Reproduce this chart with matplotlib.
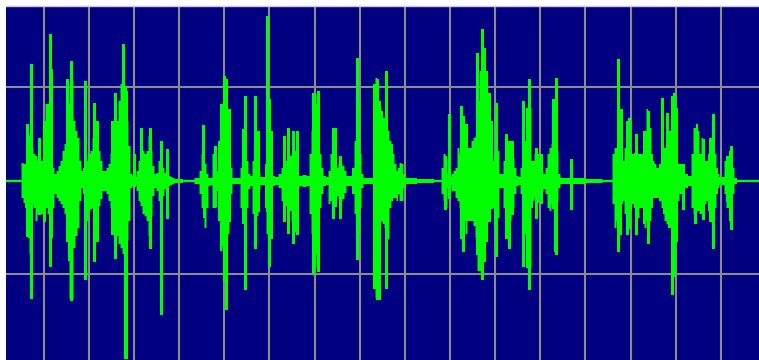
import matplotlib
matplotlib.use("Agg")
import matplotlib.pyplot as plt
import numpy as np

# ---- envelope: (sample column, peak up, peak down) ----
burst_a = [(6, 1, 1), (20, 1, 1), (22, 18, 17), (24, 17, 22), (25, 17, 27), (26, 45, 45),
           (27, 53, 53), (28, 47, 57), (30, 45, 73), (32, 33, 23), (34, 27, 27), (36, 25, 40),
           (38, 20, 33), (40, 20, 33), (42, 20, 33), (44, 50, 37), (46, 77, 27), (48, 77, 33),
           (50, 87, 47), (52, 60, 57), (53, 13, 27), (55, 7, 13), (57, 10, 17), (59, 15, 20),
           (61, 20, 23), (63, 30, 27), (65, 37, 33), (67, 57, 53), (68, 77, 80), (70, 95, 118),
           (72, 100, 118), (74, 60, 67), (76, 50, 55), (78, 43, 47), (80, 20, 20), (82, 10, 7),
           (83, 13, 13), (85, 43, 47), (87, 20, 40), (89, 27, 30), (91, 30, 28), (93, 43, 27),
           (95, 40, 30), (97, 40, 30), (99, 30, 25), (101, 20, 18), (103, 10, 10), (105, 10, 10),
           (107, 13, 13), (109, 17, 20), (111, 27, 27), (113, 30, 30), (115, 37, 40),
           (117, 60, 55), (119, 80, 63), (121, 97, 67), (123, 97, 73), (125, 90, 73),
           (127, 60, 60), (129, 35, 40), (131, 7, 7), (133, 5, 5), (135, 4, 4), (137, 10, 10),
           (139, 20, 20), (141, 25, 25), (143, 30, 33), (145, 27, 35), (147, 30, 40),
           (149, 45, 55), (151, 30, 35), (153, 15, 15), (155, 7, 7), (157, 8, 10), (159, 20, 20),
           (161, 30, 20), (163, 13, 15), (165, 8, 8), (167, 6, 6), (169, 5, 5), (171, 4, 4),
           (173, 3, 3), (175, 2, 2)]
burst_b = [(190, 1, 1), (198, 3, 3), (200, 10, 13), (202, 27, 27), (203, 30, 37), (205, 17, 47),
           (207, 7, 27), (209, 3, 5), (211, 3, 4), (213, 27, 27), (215, 27, 27), (217, 10, 10),
           (218, 40, 40), (221, 60, 70), (223, 70, 65), (225, 73, 70), (227, 77, 80),
           (228, 63, 53), (230, 27, 27), (231, 13, 13), (233, 3, 3), (239, 3, 3), (241, 13, 27),
           (243, 33, 40), (245, 27, 37), (247, 20, 27), (249, 7, 8), (251, 5, 5), (253, 20, 33),
           (255, 33, 47), (257, 25, 35), (259, 8, 8), (261, 4, 4), (264, 4, 4), (265, 17, 27),
           (267, 27, 53), (269, 20, 40), (271, 17, 27), (273, 5, 5), (276, 4, 4), (280, 7, 7),
           (282, 13, 20), (284, 27, 30), (286, 20, 25), (288, 25, 35), (290, 25, 30),
           (292, 27, 40), (294, 20, 35), (296, 15, 25), (298, 5, 6), (300, 5, 5), (304, 6, 6),
           (308, 5, 5), (310, 27, 33), (312, 50, 53), (313, 77, 73), (315, 87, 87),
           (317, 77, 73), (318, 60, 57), (320, 27, 27), (322, 13, 13), (324, 5, 5), (327, 4, 4),
           (329, 10, 23), (331, 27, 20), (333, 20, 25), (335, 17, 22), (337, 13, 15),
           (339, 17, 18), (341, 17, 20), (343, 15, 18), (345, 10, 12), (347, 5, 5), (350, 5, 5),
           (353, 13, 13), (355, 40, 33), (357, 80, 53), (359, 80, 53), (360, 27, 27),
           (362, 7, 7), (364, 3, 3), (372, 3, 3), (373, 27, 33), (374, 95, 105), (376, 103, 117),
           (378, 80, 117), (380, 73, 40), (382, 70, 40), (383, 60, 43), (385, 43, 47),
           (387, 50, 57), (388, 50, 58), (390, 40, 27), (392, 37, 20), (393, 27, 17),
           (395, 17, 17), (397, 10, 20), (398, 13, 13), (400, 18, 20), (402, 17, 20),
           (404, 7, 7), (406, 3, 3), (427, 2, 2), (440, 1, 1)]
burst_c = [(442, 13, 13), (444, 27, 20), (446, 23, 27), (448, 7, 7), (450, 4, 4), (452, 7, 10),
           (454, 10, 10), (456, 13, 17), (458, 33, 20), (460, 27, 27), (462, 27, 40),
           (464, 40, 40), (466, 43, 53), (468, 33, 40), (470, 33, 40), (472, 40, 40),
           (474, 43, 45), (476, 45, 57), (478, 80, 90), (480, 110, 90), (482, 118, 80),
           (483, 90, 73), (485, 63, 50), (487, 70, 40), (489, 60, 30), (491, 7, 10),
           (493, 20, 27), (494, 27, 47), (496, 60, 53), (497, 77, 50), (498, 30, 37),
           (500, 7, 7), (502, 7, 7), (504, 20, 27), (505, 47, 47), (507, 45, 53), (508, 33, 43),
           (510, 23, 40), (512, 40, 33), (513, 23, 27), (515, 13, 13), (517, 5, 5), (519, 4, 4),
           (521, 13, 13), (522, 20, 20), (524, 40, 53), (527, 73, 87), (530, 73, 87),
           (532, 20, 27), (533, 20, 20), (535, 27, 17), (537, 13, 17), (538, 27, 22),
           (540, 23, 13), (542, 10, 10), (544, 7, 8), (546, 13, 13), (548, 27, 27),
           (550, 33, 30), (552, 37, 23), (553, 33, 23), (555, 37, 20), (557, 30, 20),
           (559, 7, 7), (561, 3, 3), (569, 3, 3), (571, 8, 10), (573, 3, 3), (577, 3, 3),
           (593, 2, 2), (611, 1, 1)]
burst_d = [(613, 27, 23), (615, 33, 47), (617, 33, 40), (618, 37, 43), (620, 70, 47),
           (622, 72, 23), (623, 20, 20), (625, 33, 33), (627, 60, 40), (628, 37, 40),
           (630, 27, 30), (633, 27, 23), (634, 28, 27), (635, 27, 33), (637, 33, 40),
           (638, 27, 37), (640, 27, 27), (642, 27, 27), (643, 50, 43), (645, 50, 47),
           (647, 72, 40), (648, 70, 43), (650, 53, 40), (652, 27, 27), (653, 20, 17),
           (655, 17, 17), (657, 13, 17), (660, 17, 20), (662, 27, 27), (663, 33, 33),
           (665, 33, 40), (667, 43, 43), (668, 50, 47), (670, 50, 47), (672, 60, 50),
           (673, 73, 53), (675, 67, 53), (677, 37, 47), (678, 17, 20), (680, 17, 13),
           (683, 13, 17), (685, 7, 7), (690, 5, 5), (692, 27, 27), (694, 53, 33), (697, 57, 30),
           (698, 50, 30), (700, 27, 33), (702, 43, 33), (703, 33, 33), (705, 20, 23),
           (707, 20, 20), (708, 27, 30), (710, 43, 33), (712, 33, 40), (713, 33, 43),
           (715, 27, 27), (717, 13, 13), (718, 7, 7), (720, 4, 4), (723, 4, 4), (725, 20, 13),
           (727, 20, 27), (730, 30, 40), (732, 33, 27), (733, 13, 13), (735, 3, 3), (738, 1, 1),
           (759, 1, 1)]

# ---- isolated peaks (sample column, peak up, peak down) ----
spikes = [(27, 57, 55), (31, 117, 117), (39, 43, 33), (44, 60, 40), (50, 147, 85),
          (51, 112, 40), (67, 102, 60), (71, 120, 119), (85, 100, 98), (94, 78, 80),
          (97, 60, 60), (112, 60, 53), (115, 88, 77), (123, 137, 60), (125, 95, 177),
          (126, 90, 177), (134, 27, 5), (141, 53, 20), (150, 53, 67), (161, 40, 133),
          (167, 32, 37),
          (203, 56, 20), (215, 35, 25), (221, 77, 30), (224, 105, 100), (226, 102, 128),
          (229, 72, 40), (243, 52, 42), (245, 85, 108), (255, 85, 67), (258, 50, 30),
          (267, 165, 30), (269, 82, 85), (271, 50, 57), (284, 45, 40), (288, 53, 52),
          (293, 50, 62), (295, 30, 50), (297, 50, 53), (313, 88, 93), (318, 90, 90),
          (333, 53, 37), (335, 53, 25), (340, 25, 37), (357, 123, 78), (358, 80, 40),
          (374, 97, 107), (377, 102, 118), (379, 80, 118), (383, 63, 40), (386, 110, 107),
          (445, 25, 28), (449, 67, 17), (461, 75, 57), (463, 65, 70), (466, 57, 37),
          (477, 128, 73), (482, 152, 98), (484, 133, 80), (486, 110, 60), (489, 88, 40),
          (491, 60, 27), (496, 78, 75), (506, 47, 57), (509, 40, 67), (512, 40, 33),
          (523, 80, 85), (529, 102, 108), (536, 33, 37), (541, 27, 22), (553, 82, 27),
          (555, 40, 70), (556, 103, 73), (571, 22, 28),
          (618, 122, 70), (620, 72, 53), (627, 60, 53), (629, 63, 47), (636, 47, 53),
          (648, 70, 62), (662, 83, 20), (667, 68, 27), (672, 85, 113), (674, 88, 95),
          (676, 73, 60), (683, 17, 28), (695, 53, 42), (703, 42, 38), (710, 43, 40),
          (713, 67, 67), (727, 25, 20), (731, 35, 48)]

x_grid = [43.7 + 45.15 * k for k in range(16)]
y_grid = [-93.5, 0, 93.5]

NAVY = "#000080"
GREEN = "#00ff00"
GRID = "#8c8c8c"

body = np.array(burst_a + burst_b + burst_c + burst_d, dtype=float)
spk = np.array(spikes, dtype=float)

fig = plt.figure(figsize=(7.59, 3.60), dpi=100, facecolor="white")
ax = fig.add_axes([6 / 759, 0, 753 / 759, 354 / 360])
ax.set_facecolor(NAVY)
ax.set_xlim(6, 759)
ax.set_ylim(-179.5, 174.5)

for gx in x_grid:
    ax.axvline(gx, color=GRID, lw=1.5, zorder=1)
for gy in y_grid:
    ax.axhline(gy, color=GRID, lw=1.5, zorder=1)

ax.axhline(0, color=GREEN, lw=1.6, zorder=2)

ax.fill_between(body[:, 0], body[:, 1], -body[:, 2], step="mid",
                color=GREEN, lw=0, antialiased=False, zorder=3)
ax.vlines(spk[:, 0], -spk[:, 2], spk[:, 1], color=GREEN,
          lw=1.0, antialiased=False, zorder=3)

ax.set_xticks([])
ax.set_yticks([])
for side in ("left", "right", "bottom"):
    ax.spines[side].set_visible(False)
ax.spines["top"].set_color("#c8c8dc")
ax.spines["top"].set_linewidth(1.0)

fig.savefig("out.png", dpi=100, facecolor="white")
